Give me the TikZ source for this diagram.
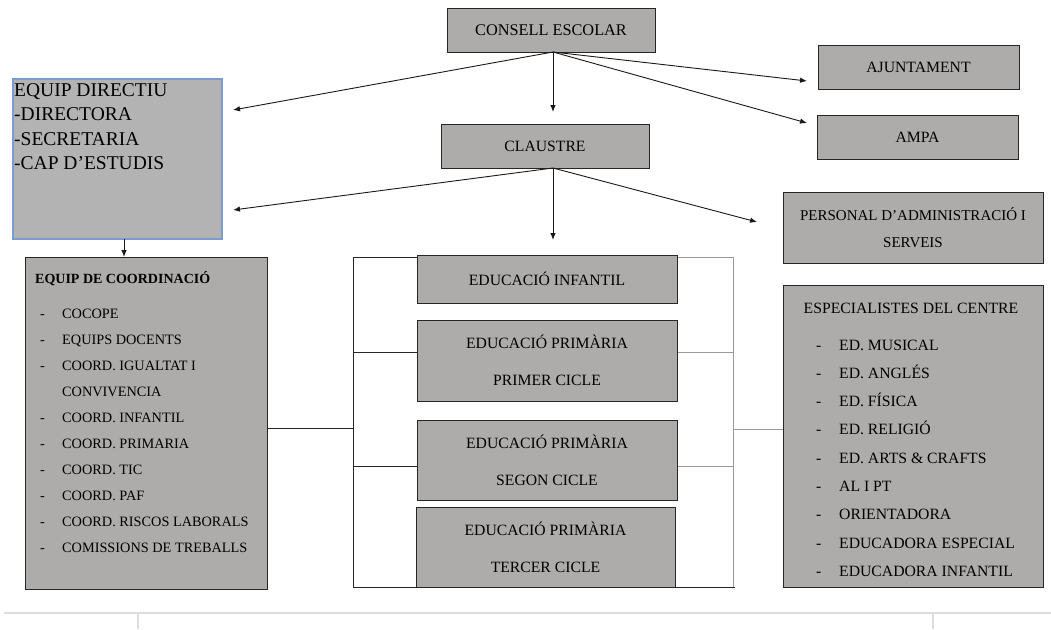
\documentclass[tikz,border=0pt]{standalone}
\usepackage{fontspec}
\setmainfont{Liberation Serif}
\usetikzlibrary{arrows.meta}
\definecolor{boxgray}{HTML}{AEABAB}
\definecolor{dirgray}{HTML}{B3B3B3}
\definecolor{dirblue}{HTML}{7A9CD3}
\definecolor{linegray}{HTML}{9A9A9A}
\definecolor{tablegray}{HTML}{DDDDDD}
\newcommand\fsbox{\fontsize{15.7}{18}\selectfont}
\newcommand\fsitem{\fontsize{14.3}{17}\selectfont}
\begin{document}
\begin{tikzpicture}[x=1pt,y=-1pt,
  box/.style={draw=black!85, line width=1pt, fill=boxgray, inner sep=0pt, font=\fsbox, align=center, text=black},
  dirbox/.style={draw=dirblue, line width=1.2pt, fill=dirgray, inner sep=0pt},
  arr/.style={draw=black!90, line width=0.9pt, -{Latex[length=7pt,width=5.5pt]}},
  conn/.style={draw=black!85, line width=1pt},
  connlight/.style={draw=linegray, line width=1pt},
  txt/.style={inner sep=0pt, anchor=base west, text=black}]
\useasboundingbox (0,0) rectangle (1051,629);

% top boxes
\node[box, minimum width=208, minimum height=44, font=\fontsize{16.3}{18}\selectfont] (consell) at (551,30) {CONSELL ESCOLAR};
\node[box, minimum width=201, minimum height=44] (ajunt) at (918.5,67) {AJUNTAMENT};
\node[box, minimum width=201, minimum height=44] (ampa) at (917.5,137) {AMPA};
\node[box, minimum width=208, minimum height=44] (claustre) at (545,146) {CLAUSTRE};
\node[box, minimum width=260, minimum height=71, font=\fontsize{15}{27}\selectfont] (personal) at (913,227.5) {PERSONAL D’ADMINISTRACIÓ I\\SERVEIS};

% equip directiu
\node[dirbox, minimum width=209, minimum height=160] (dir) at (117.5,159) {};
\node[inner sep=0pt, anchor=north west, align=left, font=\fontsize{19.5}{24.5}\selectfont] (dirtxt) at (14,83)
  {EQUIP DIRECTIU\\-DIRECTORA\\-SECRETARIA\\-CAP D’ESTUDIS};

% coordination box
\node[box, minimum width=242, minimum height=332] (coord) at (146,423) {};
\node[txt, font=\fontsize{14}{17}\selectfont\bfseries] (coordtitle) at (35,283) {EQUIP DE COORDINACIÓ};
\foreach \t [count=\i] in {COCOPE, EQUIPS DOCENTS, COORD. IGUALTAT I, CONVIVENCIA, COORD. INFANTIL, COORD. PRIMARIA, COORD. TIC, COORD. PAF, COORD. RISCOS LABORALS, COMISSIONS DE TREBALLS}{
  \node[txt, font=\fsitem] (ci\i) at (62,{318+26*(\i-1)}) {\t};
}
\foreach \i in {1,2,3,5,6,7,8,9,10}{
  \node[txt, font=\fsitem] (cd\i) at (40,{318+26*(\i-1)}) {-};
}

% middle boxes
\node[box, minimum width=260, minimum height=48] (ei) at (547,279) {EDUCACIÓ INFANTIL};
\node[box, minimum width=260, minimum height=81, font=\fontsize{15.7}{37}\selectfont] (ep1) at (547,360.5) {EDUCACIÓ PRIMÀRIA\\PRIMER CICLE};
\node[box, minimum width=260, minimum height=80, font=\fontsize{15.7}{37}\selectfont] (ep2) at (547,460) {EDUCACIÓ PRIMÀRIA\\SEGON CICLE};
\node[box, minimum width=259, minimum height=80, font=\fontsize{15.7}{37}\selectfont] (ep3) at (545.5,547) {EDUCACIÓ PRIMÀRIA\\TERCER CICLE};

% especialistes
\node[box, minimum width=260, minimum height=302] (esp) at (913,436) {};
\node[inner sep=0pt, anchor=base, font=\fsbox, text=black] (esptitle) at (911,313) {ESPECIALISTES DEL CENTRE};
\foreach \t [count=\i] in {ED. MUSICAL, ED. ANGLÉS, ED. FÍSICA, ED. RELIGIÓ, ED. ARTS \& CRAFTS, AL I PT, ORIENTADORA, EDUCADORA ESPECIAL, EDUCADORA INFANTIL}{
  \node[txt, font=\fsbox] (ei\i) at (839,{350+28.3*(\i-1)}) {\t};
  \node[txt, font=\fsbox] (ed\i) at (816,{350+28.3*(\i-1)}) {-};
}

% coordinates for arrows
\coordinate (cs) at (553,52);
\coordinate (cls) at (553,168);
\coordinate (tdir1) at (233,110);
\coordinate (tdir2) at (233,210);
\coordinate (tcl) at (553,112);
\coordinate (taj) at (807,81);
\coordinate (tam) at (807,123);
\coordinate (tpe) at (757,222);
\coordinate (tdown) at (553,240);
\coordinate (ds) at (124,239);
\coordinate (dt) at (124,257);

\draw[arr] (cs) -- (tdir1);
\draw[arr] (cs) -- (tcl);
\draw[arr] (cs) -- (taj);
\draw[arr] (cs) -- (tam);
\draw[arr] (cls) -- (tdir2);
\draw[arr] (cls) -- (tdown);
\draw[arr] (cls) -- (tpe);
\draw[arr] (ds) -- (dt);

% bracket
\coordinate (bl1) at (353,257);
\coordinate (bl2) at (353,587);
\coordinate (br1) at (733,257);
\coordinate (br2) at (733,587);
\draw[conn] (bl1) -- (bl2) -- (735,587);
\draw[conn] (bl1) -- (ei.west |- bl1);
\draw[conn] (353,352) -- (ep1.west |- 0,352);
\draw[conn] (353,466) -- (ep2.west |- 0,466);
\draw[conn] (coord.east |- 0,428) -- (353,428);
\draw[connlight] (ei.east |- bl1) -- (br1) -- (br2);
\draw[connlight] (ep1.east |- 0,352) -- (733,352);
\draw[connlight] (ep2.east |- 0,466) -- (733,466);
\draw[connlight] (733,429) -- (esp.west |- 0,429);

% page table lines
\draw[tablegray, line width=1.5pt] (4,613) -- (1051,613);
\draw[tablegray, line width=1.5pt] (138,613) -- (138,629);
\draw[tablegray, line width=1.5pt] (933,613) -- (933,629);
\end{tikzpicture}
\end{document}
